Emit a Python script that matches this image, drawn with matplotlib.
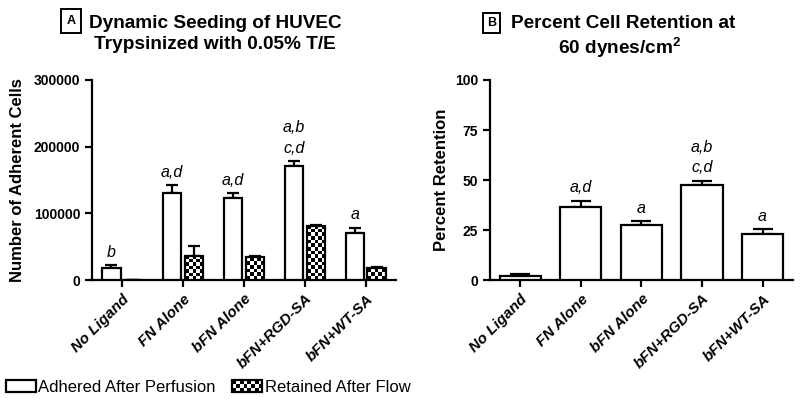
import numpy as np
import matplotlib
matplotlib.use("Agg")
import matplotlib.pyplot as plt
from matplotlib.patches import Rectangle
from matplotlib.legend_handler import HandlerBase

plt.rcParams['font.family'] = ['Liberation Sans', 'DejaVu Sans']
plt.rcParams['mathtext.fontset'] = 'custom'
plt.rcParams['mathtext.rm'] = 'Liberation Sans'
plt.rcParams['mathtext.bf'] = 'Liberation Sans:bold'

# data
groups = ['No Ligand', 'FN Alone', 'bFN Alone', 'bFN+RGD-SA', 'bFN+WT-SA']
adhered = [18000, 130000, 123000, 171000, 71000]
adhered_err = [4000, 12000, 7000, 7000, 7000]
retained = [500, 36000, 34000, 81000, 17500]
retained_err = [0, 15000, 1500, 2000, 1500]
letters_a = ['b', 'a,d', 'a,d', 'a,b\nc,d', 'a']

retention = [2.2, 36.3, 27.7, 47.3, 22.8]
retention_err = [1.0, 3.2, 1.6, 2.2, 2.5]
letters_b = ['', 'a,d', 'a', 'a,b\nc,d', 'a']

LW = 1.6


def checker_fill(ax, bar, cell_w, cell_h):
    x0, y0 = bar.get_x(), bar.get_y()
    w, h = bar.get_width(), bar.get_height()
    if h <= 0:
        return
    nx = max(1, int(round(w / cell_w)))
    ny = max(1, int(round(h / cell_h)))
    img = (np.indices((ny, nx)).sum(axis=0) % 2).astype(float)
    im = ax.imshow(img, extent=(x0, x0 + w, y0, y0 + h), cmap='gray',
                   interpolation='nearest', aspect='auto', origin='lower',
                   zorder=bar.get_zorder() - 0.1)
    im.set_clip_path(bar)


class CheckerHandler(HandlerBase):
    def create_artists(self, legend, orig_handle, xdescent, ydescent,
                       width, height, fontsize, trans):
        arts = []
        nx, ny = 8, 3
        cw, ch = width / nx, height / ny
        for i in range(nx):
            for j in range(ny):
                if (i + j) % 2 == 0:
                    arts.append(Rectangle((-xdescent + i * cw, -ydescent + j * ch), cw, ch,
                                          fc='black', ec='none', transform=trans))
        arts.append(Rectangle((-xdescent, -ydescent), width, height, fc='none',
                              ec='black', lw=LW, transform=trans))
        return arts


class BoxHandler(HandlerBase):
    def create_artists(self, legend, orig_handle, xdescent, ydescent,
                       width, height, fontsize, trans):
        return [Rectangle((-xdescent, -ydescent), width, height, fc='white',
                          ec='black', lw=LW, transform=trans)]


def style_axes(ax, ymax, step):
    for s in ['top', 'right']:
        ax.spines[s].set_visible(False)
    for s in ['left', 'bottom']:
        ax.spines[s].set_linewidth(LW)
    ax.set_xlim(-0.5, len(groups) - 0.5)
    ax.set_ylim(0, ymax)
    ax.set_yticks(np.arange(0, ymax + 1, step))
    ax.tick_params(axis='both', width=LW, length=5, labelsize=10)
    for lab in ax.get_yticklabels():
        lab.set_fontweight('bold')
    ax.set_xticks(np.arange(len(groups)))
    ax.set_xticklabels(groups, rotation=45, ha='right', rotation_mode='anchor',
                       fontstyle='italic', fontweight='bold', fontsize=11)


def letters(ax, xs, tops, labels):
    for xi, top, t in zip(xs, tops, labels):
        if t:
            ax.annotate(t, (xi, top), xytext=(0, 4), textcoords='offset points',
                        ha='center', va='bottom', fontsize=11.5, fontstyle='italic',
                        linespacing=1.45)


fig = plt.figure(figsize=(8, 4.01), dpi=100)
axA = fig.add_axes([0.115, 0.3017, 0.38, 0.4988])
axB = fig.add_axes([0.6125, 0.3017, 0.3785, 0.4988])

# ---- panel A
x = np.arange(len(groups))
bw = 0.3
off = 0.18
zeros = [0] * len(groups)
axA.errorbar(x - off, adhered, yerr=[zeros, adhered_err], fmt='none',
             ecolor='black', elinewidth=LW, capsize=4.5, capthick=LW, zorder=1)
axA.errorbar(x + off, retained, yerr=[zeros, retained_err], fmt='none',
             ecolor='black', elinewidth=LW, capsize=4.5, capthick=LW, zorder=1)
axA.bar(x - off, adhered, bw, color='white', edgecolor='black', linewidth=LW, zorder=3)
barsA2 = axA.bar(x + off, retained, bw, color='none', edgecolor='black', linewidth=LW, zorder=3)
for b in barsA2:
    checker_fill(axA, b, 0.06, 5500)
letters(axA, x - off, np.add(adhered, adhered_err), letters_a)
style_axes(axA, 300000, 100000)
axA.set_ylabel('Number of Adherent Cells', fontsize=12, fontweight='bold', labelpad=6)

# ---- panel B
axB.errorbar(x, retention, yerr=[zeros, retention_err], fmt='none',
             ecolor='black', elinewidth=LW, capsize=7.5, capthick=LW, zorder=1)
axB.bar(x, retention, 0.68, color='white', edgecolor='black', linewidth=LW, zorder=3)
letters(axB, x, np.add(retention, retention_err), letters_b)
style_axes(axB, 100, 25)
axB.set_ylabel('Percent Retention', fontsize=12, fontweight='bold', labelpad=4)

# ---- titles
tkw = dict(fontsize=13.7, fontweight='bold', ha='center', va='baseline')
fig.text(0.269, 0.9314, 'Dynamic Seeding of HUVEC', **tkw)
fig.text(0.269, 0.878, 'Trypsinized with 0.05% T/E', **tkw)
fig.text(0.779, 0.9314, 'Percent Cell Retention at', **tkw)
fig.text(0.774, 0.866, '60 dynes/cm$^{\\mathbf{2}}$', **tkw)

# panel letters in boxes
for cx, cy, w, h, lab in [(71, 21, 20, 24, 'A'), (491.5, 23, 17, 20, 'B')]:
    fig.patches.append(Rectangle(((cx - w / 2) / 800, 1 - (cy + h / 2) / 401),
                                 w / 800, h / 401, transform=fig.transFigure,
                                 fc='white', ec='black', lw=1.4))
    fig.text(cx / 800, 1 - cy / 401, lab, fontsize=9, fontweight='bold',
             ha='center', va='center')

# ---- legend
hA = Rectangle((0, 0), 1, 1)
hB = Rectangle((0, 0), 1, 1, hatch='x')
fig.legend([hA, hB], ['Adhered After Perfusion', 'Retained After Flow'],
           handler_map={hA: BoxHandler(), hB: CheckerHandler()},
           loc='lower left', bbox_to_anchor=(0.007, 0.015), ncol=2, frameon=False,
           fontsize=12, handlelength=1.8, handleheight=0.76, handletextpad=0.15,
           columnspacing=1.0, borderpad=0, borderaxespad=0)

fig.savefig('out.png', dpi=100)
